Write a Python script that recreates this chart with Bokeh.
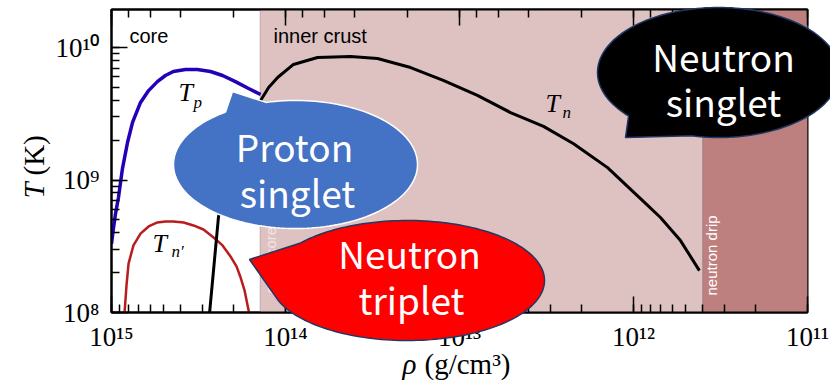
import math
from bokeh.plotting import figure
from bokeh.models import (Range1d, LogAxis, LogTicker, CustomJSTickFormatter,
                          BoxAnnotation)
from bokeh.core.properties import value
from bokeh.embed import file_html
from bokeh.resources import INLINE

# ---------------- data ----------------
# proton singlet gap T_p
rho_p = [1.00e15, 9.75e14, 9.48e14, 9.12e14, 8.65e14, 8.09e14, 7.57e14, 6.81e14,
         6.12e14, 5.45e14, 4.90e14, 4.41e14, 3.76e14, 3.21e14, 2.70e14, 2.30e14,
         1.94e14, 1.63e14, 1.39e14]
T_p = [3.3e8, 4.31e8, 5.58e8, 7.38e8, 1.22e9, 1.92e9, 2.72e9, 3.85e9,
       4.73e9, 5.53e9, 6.15e9, 6.59e9, 6.82e9, 6.82e9, 6.59e9, 6.15e9,
       5.53e9, 4.91e9, 4.42e9]

# neutron triplet gap T_n'
rho_nt = [8.45e14, 8.41e14, 8.20e14, 7.98e14, 7.48e14, 6.81e14, 6.12e14, 5.45e14,
          4.90e14, 4.41e14, 3.85e14, 3.38e14, 2.96e14, 2.59e14, 2.30e14, 2.07e14,
          1.91e14, 1.82e14, 1.72e14, 1.63e14, 1.61e14]
T_nt = [9.0e7, 1.0e8, 1.60e8, 2.34e8, 3.21e8, 3.94e8, 4.46e8, 4.78e8,
        4.86e8, 4.86e8, 4.78e8, 4.54e8, 4.23e8, 3.68e8, 3.21e8, 2.65e8,
        2.22e8, 1.87e8, 1.47e8, 1.04e8, 9.0e7]

# neutron singlet gap T_n
rho_ns = [2.75e14, 2.43e14, 2.21e14, 1.99e14, 1.77e14, 1.57e14, 1.39e14, 1.25e14,
          1.11e14, 9.0e13, 6.55e13, 4.23e13, 2.96e13, 1.91e13, 1.24e13, 7.89e12,
          5.09e12, 3.29e12, 2.21e12, 1.41e12, 8.77e11, 7.0e11, 5.37e11, 4.18e11]
T_ns = [9.0e7, 5.21e8, 9.91e8, 1.67e9, 2.58e9, 3.47e9, 3.98e9, 4.99e9,
        5.94e9, 7.45e9, 8.41e9, 8.55e9, 8.26e9, 7.06e9, 5.64e9, 4.35e9,
        3.23e9, 2.54e9, 1.88e9, 1.24e9, 6.89e8, 5.21e8, 3.49e8, 2.07e8]

# density boundaries: core | inner crust | neutron drip
region_edges = [1.4e14, 4.0e11, 1.0e11]
region_colors = ["#dec1c1", "#be807e"]

x_limits = [1e15, 1e11]
y_limits = [1e8, 10 ** 10.287]

# ---------------- figure ----------------
W, H = 830, 387
PL, PR, PT, PB = 111, 807, 9, 312   # frame edges in page pixels
p = figure(width=W, height=H, x_axis_type="log", y_axis_type="log",
           x_range=Range1d(*x_limits), y_range=Range1d(*y_limits),
           output_backend="svg", toolbar_location=None,
           min_border_left=PL, min_border_right=W - PR, min_border_top=PT,
           min_border_bottom=H - PB)
p.background_fill_color = "white"
p.border_fill_color = "white"
p.grid.visible = False
p.outline_line_color = "black"
p.outline_line_width = 2

sup = CustomJSTickFormatter(code="""
const s = ['\u2070','\u00b9','\u00b2','\u00b3','\u2074','\u2075','\u2076','\u2077','\u2078','\u2079'];
const e = Math.round(Math.log10(tick));
return '10' + String(e).split('').map(c => s[+c]).join('');
""")

for ax in (p.xaxis[0], p.yaxis[0]):
    ax.formatter = sup
    ax.major_label_text_font = "Liberation Serif"
    ax.major_label_text_font_size = "27px"
    ax.major_label_text_color = "black"
    ax.axis_line_width = 2
    ax.axis_line_color = "black"
    ax.major_tick_in = 16
    ax.major_tick_out = 0
    ax.minor_tick_in = 8
    ax.minor_tick_out = 0
    ax.major_tick_line_width = 1.5
    ax.minor_tick_line_width = 1.5
    ax.major_tick_line_color = "black"
    ax.minor_tick_line_color = "black"
p.xaxis[0].major_label_standoff = 9
p.yaxis[0].major_label_standoff = 12

top = LogAxis(ticker=LogTicker(), major_label_text_font_size="2px",
              major_label_text_alpha=0.0,
              major_label_standoff=0, major_tick_in=16, major_tick_out=0,
              minor_tick_in=8, minor_tick_out=0, major_tick_line_width=1.5,
              minor_tick_line_width=1.5, axis_line_width=2)
p.add_layout(top, "above")

# shaded density regions
for i in range(len(region_colors)):
    p.add_layout(BoxAnnotation(left=region_edges[i], right=region_edges[i + 1],
                               fill_color=region_colors[i], fill_alpha=1.0,
                               line_color="#6e5656", line_width=1, level="underlay"))

# curves
p.line(rho_p, T_p, line_color="#2400b8", line_width=3.5)
p.line(rho_nt, T_nt, line_color="#b81c1c", line_width=2.5)
p.line(rho_ns, T_ns, line_color="black", line_width=3)

# ---------------- helpers for placing texts / bubbles (page pixels -> data) ---
lx0, lx1 = math.log10(x_limits[0]), math.log10(x_limits[1])
ly0, ly1 = math.log10(y_limits[0]), math.log10(y_limits[1])


def dx(px):
    return 10 ** (lx0 + (px - PL) / (PR - PL) * (lx1 - lx0))


def dy(py):
    return 10 ** (ly0 + (PB - py) / (PB - PT) * (ly1 - ly0))


def lab(text, px, py, size, font="Liberation Sans", color="black", style="normal",
        align="left", angle=0.0):
    # (px, py) is the wanted baseline point; compensate the renderer's offset
    off = 0.4 * size
    if angle:
        px -= off
    else:
        py -= off
    p.text(x=[dx(px)], y=[dy(py)], text=[text], text_font=value(font),
           text_font_size=value(f"{size}px"), text_color=color,
           text_font_style=style, text_align=align,
           text_baseline="alphabetic", angle=angle, level="overlay")


def bubble(cx, cy, rx, ry, t1, t2, tip, fill, line, n=160):
    xs, ys = [], []
    a0, a1 = t2, t1 + 360
    for i in range(n + 1):
        a = math.radians(a0 + (a1 - a0) * i / n)
        xs.append(cx + rx * math.cos(a))
        ys.append(cy + ry * math.sin(a))
    xs.append(tip[0])
    ys.append(tip[1])
    p.patch([dx(v) for v in xs], [dy(v) for v in ys], fill_color=fill,
            fill_alpha=1.0, line_color=line, line_width=1.5, level="overlay")


# region labels
lab("core", 129, 43, 20)
lab("inner crust", 273, 43, 20)
lab("neutron drip", 717, 295, 15, color="white", angle=math.pi / 2)
lab("crust-core", 276, 293, 15, color="#f3e4e4", angle=math.pi / 2)

# curve labels
lab("T", 178, 102, 26, font="Liberation Serif", style="italic")
lab("p", 193, 109, 17, font="Liberation Serif", style="italic")
lab("T", 152, 253, 26, font="Liberation Serif", style="italic")
lab("n\u2032", 171, 258, 17, font="Liberation Serif", style="italic")
lab("T", 545, 113, 26, font="Liberation Serif", style="italic")
lab("n", 562, 119, 17, font="Liberation Serif", style="italic")

# axis titles
lab("T", 45, 198, 29, font="Liberation Serif", style="italic", angle=math.pi / 2)
lab("(K)", 45, 175, 29, font="Liberation Serif", angle=math.pi / 2)
lab("\u03c1", 402, 375, 29, font="Liberation Serif", style="italic")
lab("(g/cm\u00b3)", 424, 375, 29, font="Liberation Serif")

# speech bubbles
BF = "Noto Sans CJK JP"
bubble(295, 164, 122, 64, 235, 256, (232, 91), "#4472c4", "white")
lab("Proton", 294, 160, 37, font=BF, color="white", align="center")
lab("singlet", 297, 206, 37, font=BF, color="white", align="center")

bubble(407, 280, 137, 60, 161.6, 218.7, (249, 259), "#ff0000", "#203864")
lab("Neutron", 409, 267, 37, font=BF, color="white", align="center")
lab("triplet", 411, 313, 37, font=BF, color="white", align="center")

bubble(718, 72, 121, 65, 103, 138, (625, 137), "#000000", "#203864")
lab("Neutron", 723, 70, 37, font=BF, color="white", align="center")
lab("singlet", 723, 115, 37, font=BF, color="white", align="center")

open("out.html", "w").write(file_html(p, INLINE))
